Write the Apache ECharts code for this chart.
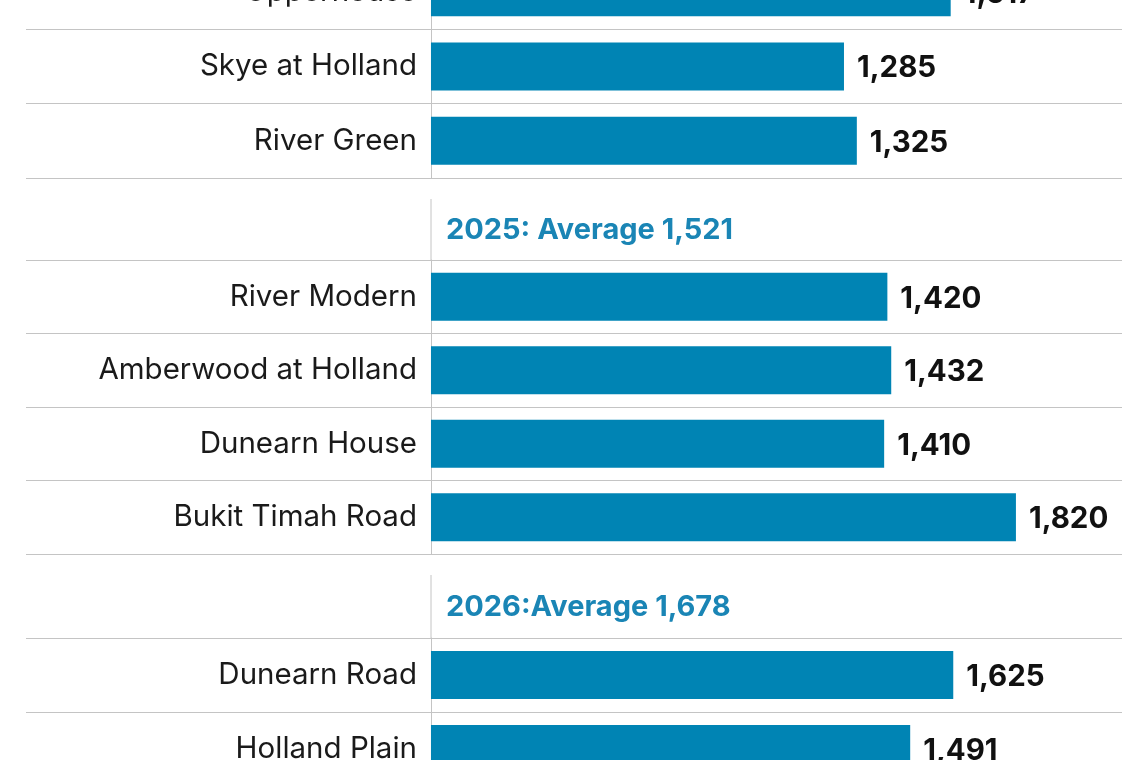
<!DOCTYPE html>
<html>
<head>
<meta charset="utf-8">
<script src="https://cdn.jsdelivr.net/npm/echarts@6/dist/echarts.min.js"></script>
<style>
html,body{margin:0;padding:0;background:#fff;}
#chart{width:1140px;height:760px;}
</style>
</head>
<body>
<div id="chart"></div>
<script>
const cats2024 = ['Upperhouse', 'Skye at Holland', 'River Green'];
const vals2024 = [1617, 1285, 1325];
const cats2025 = ['River Modern', 'Amberwood at Holland', 'Dunearn House', 'Bukit Timah Road'];
const vals2025 = [1420, 1432, 1410, 1820];
const cats2026 = ['Dunearn Road', 'Holland Plain'];
const vals2026 = [1625, 1491];
const headers = ['2025: Average 1,521', '2026:Average 1,678'];

const FONT = 'Inter';
const BAR = '#0084b4';
const LINE = '#c4c4c4';

const groups = [
  {cats: cats2024, vals: vals2024, top: -45, height: 223},
  {cats: cats2025, vals: vals2025, top: 260, height: 294},
  {cats: cats2026, vals: vals2026, top: 638, height: 148}
];

const grid = [], xAxis = [], yAxis = [], series = [];
groups.forEach((g, i) => {
  grid.push({left: 26, width: 1096, top: g.top, height: g.height,
             containLabel: false, outerBoundsMode: 'none'});
  xAxis.push({type: 'value', gridIndex: i, min: -1260, max: 2150, show: false});
  yAxis.push({
    type: 'category', gridIndex: i, inverse: true, data: g.cats,
    position: 'left', offset: -405,
    axisLine: {show: true, onZero: false, lineStyle: {color: LINE, width: 1}},
    axisTick: {show: false},
    axisLabel: {margin: 14, fontSize: 29.5, color: '#1a1a1a', fontFamily: FONT,
                padding: [4, 0, 0, 0]},
    splitLine: {show: true, interval: 0, lineStyle: {color: LINE, width: 1}}
  });
  series.push({
    type: 'bar', xAxisIndex: i, yAxisIndex: i, data: g.vals,
    barWidth: 48, itemStyle: {color: BAR},
    label: {
      show: true, position: 'right', distance: 13, offset: [0, 2],
      fontSize: 29.5, fontWeight: 'bold', color: '#111', fontFamily: FONT,
      formatter: p => p.value.toLocaleString('en-US')
    }
  });
});

const chart = echarts.init(document.getElementById('chart'));
chart.setOption({
  animation: false,
  backgroundColor: '#fff',
  title: [
    {text: headers[0], left: 446, top: 216, padding: 0,
     textStyle: {color: '#1a85b5', fontSize: 29, fontWeight: 'bold', fontFamily: FONT}},
    {text: headers[1], left: 446, top: 593, padding: 0,
     textStyle: {color: '#1a85b5', fontSize: 29, fontWeight: 'bold', fontFamily: FONT}}
  ],
  grid, xAxis, yAxis, series,
  graphic: [
    {type: 'line', shape: {x1: 431, y1: 199, x2: 431, y2: 260}, style: {stroke: LINE, lineWidth: 1}},
    {type: 'line', shape: {x1: 431, y1: 575, x2: 431, y2: 638}, style: {stroke: LINE, lineWidth: 1}}
  ]
});
</script>
</body>
</html>
